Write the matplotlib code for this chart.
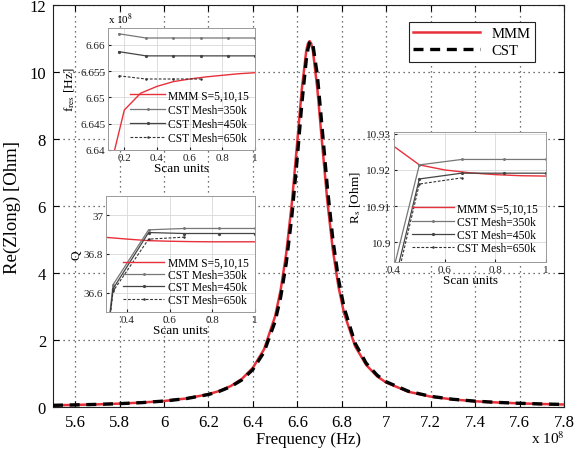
import matplotlib
matplotlib.use("Agg")
import matplotlib.pyplot as plt
from matplotlib.ticker import FormatStrFormatter

plt.rcParams['font.family'] = 'serif'
plt.rcParams['font.serif'] = ['Liberation Serif', 'DejaVu Serif']
plt.rcParams['mathtext.fontset'] = 'stix'

# Re(Zlong) vs frequency (x 1e8 Hz)
freq = [5.5, 5.6, 5.7, 5.8, 5.9, 6.0, 6.1, 6.2, 6.25, 6.3, 6.35, 6.4, 6.45, 6.5,
        6.525, 6.55, 6.575, 6.6, 6.62, 6.64, 6.648, 6.655, 6.662, 6.67, 6.69, 6.71,
        6.735, 6.76, 6.785, 6.81, 6.86, 6.91, 6.96, 7.0, 7.1, 7.2, 7.3, 7.4,
        7.5, 7.6, 7.7, 7.8]
z_mmm = [0.054, 0.066, 0.082, 0.105, 0.136, 0.183, 0.258, 0.385, 0.485, 0.628, 0.840, 1.174, 1.724, 2.712,
         3.501, 4.592, 6.077, 7.943, 9.483, 10.63, 10.855, 10.92, 10.855, 10.63, 9.50, 7.977,
         6.142, 4.677, 3.594, 2.809, 1.816, 1.255, 0.914, 0.732, 0.458, 0.314, 0.229, 0.174,
         0.138, 0.112, 0.093, 0.078]
z_cst = [0.054, 0.066, 0.082, 0.104, 0.134, 0.181, 0.254, 0.377, 0.474, 0.610, 0.810, 1.123, 1.641, 2.559,
         3.287, 4.298, 5.683, 7.470, 9.040, 10.357, 10.697, 10.872, 10.92, 10.812, 9.900, 8.445,
         6.555, 4.992, 3.823, 2.975, 1.906, 1.308, 0.947, 0.755, 0.472, 0.322, 0.234, 0.178,
         0.141, 0.114, 0.094, 0.080]

# convergence studies vs scan units
scan = [0.167, 0.333, 0.5, 0.667, 0.833, 1.0]

fres_350 = [6.6621, 6.6613, 6.6613, 6.6613, 6.6613, 6.6613]
fres_450 = [6.6587, 6.6579, 6.6579, 6.6579, 6.6579, 6.6579]
fres_650 = [6.6541, 6.6535, 6.6535, 6.6535]
fres_mmm_scan = [0.125, 0.2, 0.3, 0.4, 0.5, 0.6, 0.7, 0.8, 0.9, 1.0]
fres_mmm = [6.638, 6.6476, 6.6508, 6.6521, 6.6530, 6.6535, 6.6539, 6.6542, 6.6545, 6.6547]

q_350 = [35.0, 36.641, 36.925, 36.932, 36.932, 36.932]
q_450 = [35.0, 36.620, 36.911, 36.906, 36.906, 36.906]
q_650 = [35.0, 36.607, 36.877, 36.887]
q_mmm_scan = [0.3, 0.4, 0.5, 0.6, 0.7, 0.8, 0.9, 1.0]
q_mmm = [36.886, 36.877, 36.869, 36.866, 36.864, 36.863, 36.863, 36.863]

rs_350 = [10.874, 10.9214, 10.9229, 10.9229, 10.9229]
rs_450 = [10.869, 10.9175, 10.9191, 10.9191, 10.9191]
rs_650 = [10.866, 10.9161, 10.9178]
rs_mmm_scan = [0.4, 0.5, 0.6, 0.7, 0.8, 0.9, 1.0]
rs_mmm = [10.9265, 10.9214, 10.9200, 10.9192, 10.9187, 10.9184, 10.9183]

RED = '#e8303a'

fig = plt.figure(figsize=(5.79, 4.56), dpi=100)
ax = fig.add_axes([0.0915, 0.105, 0.8825, 0.882])
ax.plot(freq, z_mmm, color=RED, lw=1.8, label='MMM', zorder=3)
ax.plot(freq, z_cst, color='black', lw=2.4, ls=(0, (3, 2)), label='CST', zorder=4)
ax.set_xlim(5.5, 7.8)
ax.set_ylim(0, 12)
ax.set_xticks([5.6, 5.8, 6, 6.2, 6.4, 6.6, 6.8, 7, 7.2, 7.4, 7.6, 7.8])
ax.set_yticks([0, 2, 4, 6, 8, 10, 12])
ax.xaxis.set_major_formatter(FormatStrFormatter('%g'))
ax.tick_params(direction='in', top=True, right=True, labelsize=12, length=4, pad=5)
ax.grid(True, ls=(0, (1, 3)), color='#444444', lw=0.9)
ax.set_xlabel('Frequency (Hz)', fontsize=12, labelpad=1)
ax.set_ylabel('Re(Zlong) [Ohm]', fontsize=13.5, labelpad=6)
for s in ax.spines.values():
    s.set_color('#222222')
    s.set_linewidth(0.8)
leg = ax.legend(loc='upper right', bbox_to_anchor=(0.958, 0.975), fontsize=10.5,
                handlelength=4.6, fancybox=False, edgecolor='#222222', framealpha=1,
                borderpad=0.3, labelspacing=0.3)
leg.get_frame().set_linewidth(0.8)
fig.text(0.947, 0.02, r'x 10$^8$', fontsize=11, ha='center', va='bottom')


def style_inset(a):
    a.set_facecolor('white')
    a.grid(True, color='#d8d8d8', lw=0.6)
    a.set_axisbelow(True)
    a.tick_params(direction='in', labelsize=8, length=2.5, pad=2, colors='#222222')
    a.xaxis.set_major_formatter(FormatStrFormatter('%g'))
    a.yaxis.set_major_formatter(FormatStrFormatter('%g'))
    for s in a.spines.values():
        s.set_color('#999999')
        s.set_linewidth(0.7)
    a.set_xlabel('Scan units', fontsize=9.5, labelpad=0)


def cst_lines(a, x350, y350, x450, y450, x650, y650):
    a.plot(x350, y350, color='#777777', lw=0.9, marker='.', ms=2.2, label='CST Mesh=350k')
    a.plot(x450, y450, color='#444444', lw=0.9, marker='o', ms=1.3, label='CST Mesh=450k')
    a.plot(x650, y650, color='#333333', lw=0.8, ls='--', dashes=(2.5, 1.5), marker='.', ms=1.6,
           label='CST Mesh=650k')


# resonance frequency inset
ax1 = fig.add_axes([0.1865, 0.6689, 0.2539, 0.2675])
ax1.plot(fres_mmm_scan, fres_mmm, color=RED, lw=1.0, label='MMM S=5,10,15')
cst_lines(ax1, scan, fres_350, scan, fres_450, scan[:4], fres_650)
ax1.set_xlim(0.1, 1.0)
ax1.set_ylim(6.64, 6.6632)
ax1.set_xticks([0.2, 0.4, 0.6, 0.8, 1.0])
ax1.set_yticks([6.64, 6.645, 6.65, 6.655, 6.66])
style_inset(ax1)
ax1.set_ylabel(r'f$_{\rm res}$ [Hz]', fontsize=9.5, labelpad=2)
ax1.text(0.0, 1.02, r'x 10$^8$', transform=ax1.transAxes, fontsize=8, ha='left', va='bottom')
ax1.legend(loc='lower right', fontsize=8.3, frameon=False, handlelength=3.0,
           labelspacing=0.2, borderaxespad=0.1, handletextpad=0.3)

# quality factor inset
ax2 = fig.add_axes([0.1831, 0.3136, 0.2573, 0.2544])
ax2.plot(q_mmm_scan, q_mmm, color=RED, lw=1.0, label='MMM S=5,10,15')
cst_lines(ax2, scan, q_350, scan, q_450, scan[:4], q_650)
ax2.set_xlim(0.3, 1.0)
ax2.set_ylim(36.5, 37.1)
ax2.set_xticks([0.4, 0.6, 0.8, 1.0])
ax2.set_yticks([36.6, 36.8, 37.0])
style_inset(ax2)
ax2.set_ylabel('Q', fontsize=9.5, labelpad=1)
ax2.legend(loc='lower right', fontsize=8.3, frameon=False, handlelength=3.6,
           labelspacing=0.02, borderaxespad=0.15, handletextpad=0.3)

# shunt resistance inset
ax3 = fig.add_axes([0.6805, 0.4232, 0.2625, 0.2851])
ax3.plot(rs_mmm_scan, rs_mmm, color=RED, lw=1.0, label='MMM S=5,10,15')
cst_lines(ax3, scan[1:], rs_350, scan[1:], rs_450, scan[1:4], rs_650)
ax3.set_xlim(0.4, 1.0)
ax3.set_ylim(10.8945, 10.9305)
ax3.set_xticks([0.4, 0.6, 0.8, 1.0])
ax3.set_yticks([10.9, 10.91, 10.92, 10.93])
style_inset(ax3)
ax3.set_ylabel(r'R$_{\rm s}$ [Ohm]', fontsize=9.5, labelpad=2)
ax3.legend(loc='lower right', fontsize=8.3, frameon=False, handlelength=3.6,
           labelspacing=0.1, borderaxespad=0.3, handletextpad=0.3)

fig.savefig('out.png', dpi=100)
